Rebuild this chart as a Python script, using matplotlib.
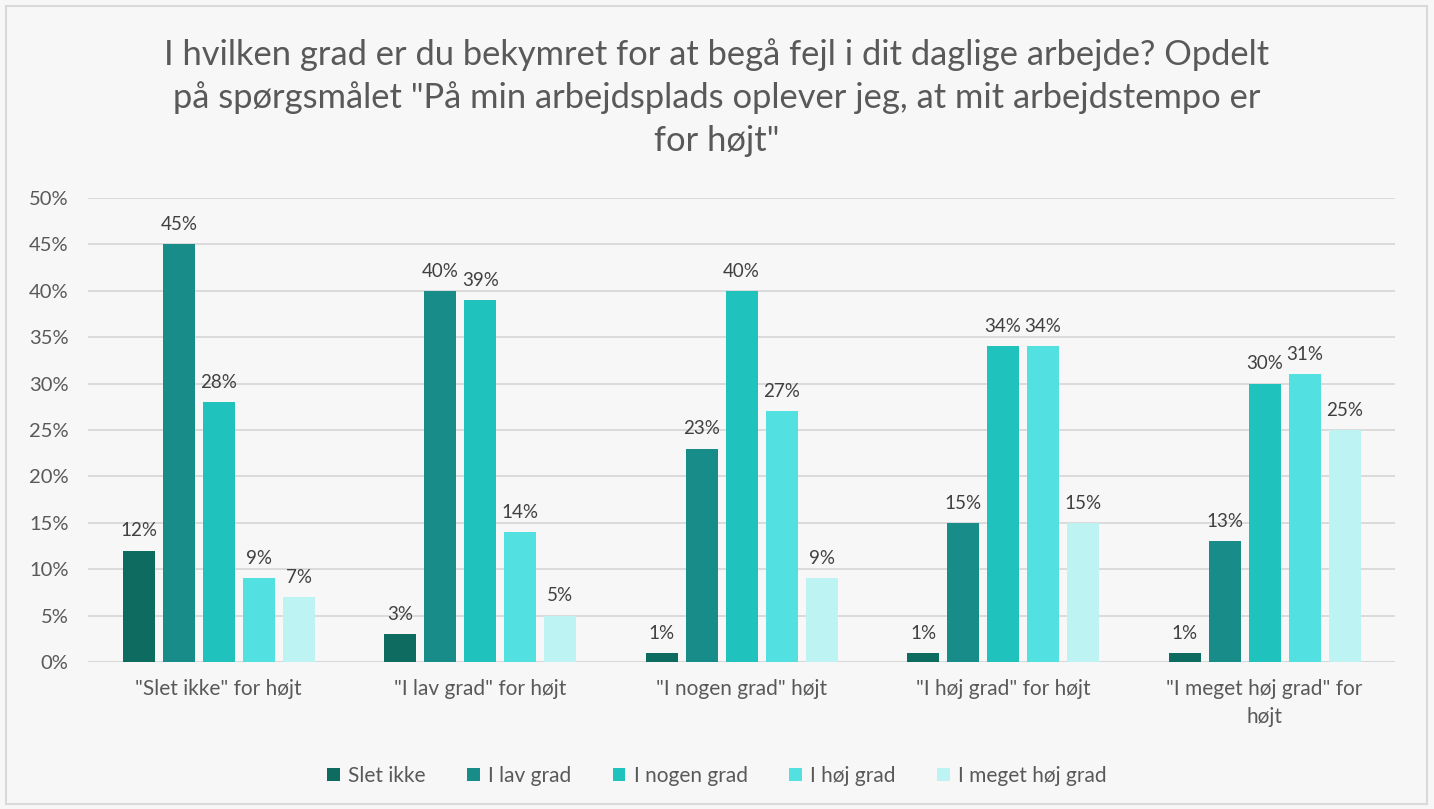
import numpy as np
import matplotlib.pyplot as plt
from matplotlib.patches import Rectangle

groups = ['"Slet ikke" for højt', '"I lav grad" for højt', '"I nogen grad" højt',
          '"I høj grad" for højt', '"I meget høj grad" for\nhøjt']
series = ["Slet ikke", "I lav grad", "I nogen grad", "I høj grad", "I meget høj grad"]
colors = ["#0e6b5f", "#178c88", "#20c2bd", "#52e0e0", "#bdf3f3"]

slet_ikke = [12, 3, 1, 1, 1]
lav_grad = [45, 40, 23, 15, 13]
nogen_grad = [28, 39, 40, 34, 30]
hoj_grad = [9, 14, 27, 34, 31]
meget_hoj = [7, 5, 9, 15, 25]
values = [slet_ikke, lav_grad, nogen_grad, hoj_grad, meget_hoj]

yticks = [0, 5, 10, 15, 20, 25, 30, 35, 40, 45, 50]

plt.rcParams['font.family'] = ['Lato', 'DejaVu Sans']
txt = "#595959"

fig = plt.figure(figsize=(14.34, 8.09), dpi=100, facecolor="#f7f7f7")
fig.patches.append(Rectangle((0.004, 0.006), 0.991, 0.987, transform=fig.transFigure,
                             fill=False, edgecolor="#d9d9d9", linewidth=1.5))
ax = fig.add_axes([0.0614, 0.1817, 0.9116, 0.5736])
ax.set_facecolor("#f7f7f7")

x = np.arange(len(groups))
w = 0.122
step = 0.153
for i, (name, vals) in enumerate(zip(series, values)):
    pos = x + (i - 2) * step
    bars = ax.bar(pos, vals, width=w, color=colors[i], label=name, zorder=3)
    for b, v in zip(bars, vals):
        ax.text(b.get_x() + b.get_width() / 2, v + 1.2, f"{v}%", ha="center", va="bottom",
                fontsize=13.5, color="#404040")

ax.set_xlim(-0.5, len(groups) - 0.5)
ax.set_ylim(0, 50)
ax.set_yticks(yticks)
ax.set_yticklabels([f"{t}%" for t in yticks], fontsize=14.5, color=txt)
ax.set_xticks(x)
ax.set_xticklabels(groups, fontsize=15, color=txt, linespacing=1.55)
ax.tick_params(axis="y", length=0, pad=14)
ax.tick_params(axis="x", length=0, pad=12)
ax.grid(axis="y", color="#d9d9d9", linewidth=1.3, zorder=0)
for s in ax.spines.values():
    s.set_visible(False)
ax.axhline(0, color="#d9d9d9", linewidth=1.5, zorder=2)

fig.text(0.5, 0.953, 'I hvilken grad er du bekymret for at begå fejl i dit daglige arbejde? Opdelt\n'
         'på spørgsmålet "På min arbejdsplads oplever jeg, at mit arbejdstempo er\nfor højt"',
         ha="center", va="top", fontsize=24.8, color=txt, linespacing=1.4)

fig.legend(loc="center", bbox_to_anchor=(0.5, 0.041), ncol=5, frameon=False, fontsize=15,
           handlelength=0.6, handleheight=0.6, columnspacing=2.0, handletextpad=0.4,
           labelcolor=txt)

fig.savefig("out.png", dpi=100, facecolor=fig.get_facecolor())
